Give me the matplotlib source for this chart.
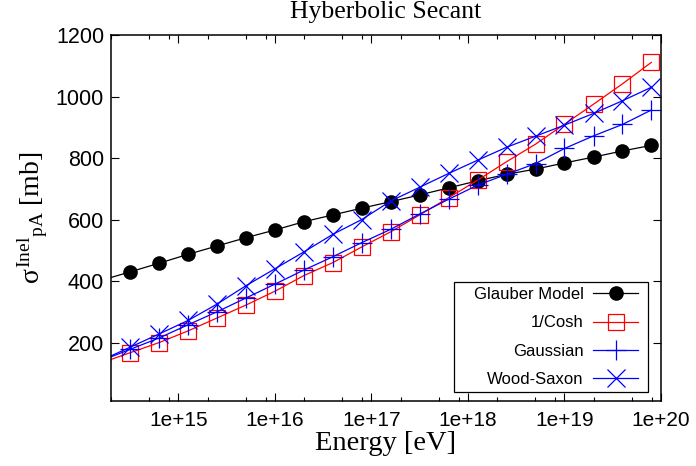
import matplotlib
matplotlib.use("Agg")
import matplotlib.pyplot as plt
from matplotlib.patches import Rectangle
from matplotlib.ticker import LogLocator, NullFormatter, FixedLocator

### Data ###
# energies [eV]; the first one is left of the x range (the lines come in from the axis)
energy = [1.58e14, 3.16e14, 6.31e14, 1.26e15, 2.51e15, 5.01e15, 1.0e16, 2.0e16, 3.98e16, 7.94e16,
          1.58e17, 3.16e17, 6.31e17, 1.26e18, 2.51e18, 5.01e18, 1.0e19, 2.0e19, 3.98e19, 7.94e19]
glauber = [402, 430, 458, 487, 514, 541, 566, 593, 615, 637,
           658, 680, 703, 726, 747, 764, 784, 803, 823, 841]
cosh = [134, 167, 200, 238, 280, 322, 367, 418, 460, 511,
        560, 615, 671, 728, 788, 845, 910, 975, 1041, 1111]
gaussian = [141, 178, 215, 258, 300, 345, 390, 436, 479, 525,
            568, 618, 666, 712, 747, 782, 831, 872, 909, 956]
woodsaxon = [142, 185, 228, 272, 325, 385, 440, 495, 552, 600,
             660, 705, 750, 793, 835, 871, 907, 945, 986, 1030]

series_names = ["Glauber Model", "1/Cosh", "Gaussian", "Wood-Saxon"]
x_major = [1e15, 1e16, 1e17, 1e18, 1e19, 1e20]
x_labels = ["1e+15", "1e+16", "1e+17", "1e+18", "1e+19", "1e+20"]
y_major = [200, 400, 600, 800, 1000, 1200]

plt.rcParams["mathtext.fontset"] = "custom"
plt.rcParams["mathtext.rm"] = "Liberation Serif"
plt.rcParams["mathtext.it"] = "Liberation Serif"
plt.rcParams["mathtext.bf"] = "Liberation Serif"

fig = plt.figure(figsize=(6.96, 4.66), dpi=100)
ax = fig.add_axes([0.1595, 0.1395, 0.7902, 0.7854])

ax.plot(energy, glauber, "-o", color="black", lw=0.9, ms=9.5, label=series_names[0])
ax.plot(energy, cosh, "-s", color="red", lw=0.9, ms=11, mfc="none", mew=0.9, label=series_names[1])
ax.plot(energy, gaussian, "-+", color="blue", lw=0.9, ms=14, mew=0.9, label=series_names[2])
ax.plot(energy, woodsaxon, "-x", color="blue", lw=0.9, ms=13, mew=0.9, label=series_names[3])

ax.set_xscale("log")
ax.set_xlim(2e14, 1e20)
ax.set_ylim(10, 1200)
ax.xaxis.set_major_locator(FixedLocator(x_major))
ax.set_xticklabels(x_labels)
ax.xaxis.set_minor_locator(LogLocator(base=10, subs=(2, 5, 8), numticks=20))
ax.xaxis.set_minor_formatter(NullFormatter())
ax.yaxis.set_major_locator(FixedLocator(y_major))
ax.tick_params(which="both", direction="in", top=True, right=True, width=0.8)
ax.tick_params(which="major", length=6, labelsize=15)
ax.tick_params(axis="y", which="major", labelsize=15.5, pad=5)
ax.tick_params(axis="x", which="major", pad=7)
ax.tick_params(which="minor", length=3)
for lab in ax.get_xticklabels() + ax.get_yticklabels():
    lab.set_fontfamily("Liberation Sans")
for sp in ax.spines.values():
    sp.set_linewidth(1.1)

ax.set_title("Hyberbolic Secant", fontfamily="Liberation Serif", fontsize=18.5, pad=12.5)
ax.set_xlabel("Energy [eV]", fontfamily="Liberation Serif", fontsize=20.5, labelpad=1)
ax.set_ylabel(r"$\sigma^{\rm Inel}{}_{\rm pA}$ [mb]", fontfamily="Liberation Serif", fontsize=20, labelpad=4)

# gnuplot style key: labels right aligned, sample on the right, wide left margin
leg = ax.legend(loc="lower right", bbox_to_anchor=(0.968, 0.0245), markerfirst=False, frameon=False,
                prop={"family": "Liberation Sans", "size": 12},
                handlelength=2.7, labelspacing=0.8, borderaxespad=0, borderpad=0.3,
                handletextpad=0.6)
fig.canvas.draw()
bb = leg.get_window_extent().transformed(fig.transFigure.inverted())
left_extra = 15 / fig.bbox.width
right_extra = 5 / fig.bbox.width
box = Rectangle((bb.x0 - left_extra, bb.y0), bb.width + left_extra + right_extra, bb.height,
                transform=fig.transFigure, facecolor="white", edgecolor="black", lw=0.9,
                zorder=4.5, clip_on=False)
ax.add_patch(box)

fig.savefig("out.png", dpi=100)
